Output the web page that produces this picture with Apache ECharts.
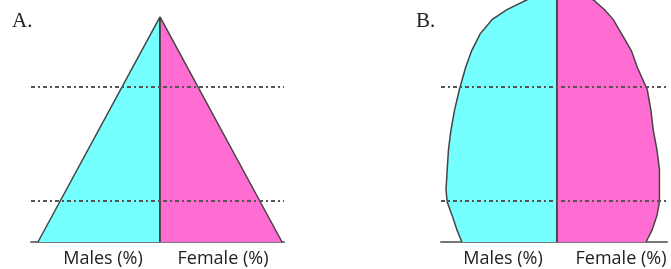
<!DOCTYPE html>
<html>
<head>
<meta charset="utf-8">
<script src="https://cdn.jsdelivr.net/npm/echarts@6/dist/echarts.min.js"></script>
<style>
  html, body { margin: 0; padding: 0; background: #fff; }
  #chart { width: 671px; height: 269px; }
</style>
</head>
<body>
<div id="chart"></div>
<script>
// A: expansive pyramid (age vs. % on each side)
const agesA = [0, 93];
const malesA = [10, 0];
const femalesA = [10, 0];

// B: stationary / bell shaped pyramid
const agesB = [0, 5, 11, 16.5, 21.5, 30, 38, 46, 54.5, 63, 72, 79, 86, 92, 96, 100, 103];
const malesB = [7.8, 8.2, 8.6, 9.0, 9.1, 9.0, 8.9, 8.7, 8.4, 8.0, 7.5, 7.0, 6.3, 5.3, 4.1, 2.5, 0.8];
const femalesB = [7.3, 7.8, 8.2, 8.4, 8.4, 8.4, 8.2, 7.9, 7.7, 7.4, 6.6, 6.1, 5.3, 4.6, 3.9, 3.0, 1.2];

// dashed age boundaries
const guideAges = [17, 64];

const sideLabels = ['Males (%)', 'Female (%)'];
const panelLabels = ['A.', 'B.'];

const CYAN = '#75ffff';
const PINK = '#ff6dd2';
const EDGE = '#444';

function sideRender(ages, widths, sign, color) {
  return function (params, api) {
    if (params.dataIndex !== 0) return;
    const edge = ages.map((a, i) => api.coord([sign * widths[i], a]));
    const top = api.coord([0, ages[ages.length - 1]]);
    const base = api.coord([0, 0]);
    return {
      type: 'group',
      children: [
        { type: 'polygon', shape: { points: [base].concat(edge, [top]) }, style: { fill: color } },
        { type: 'polyline', shape: { points: edge.concat([top]) }, style: { stroke: EDGE, lineWidth: 1.5, fill: null } },
        { type: 'line', shape: { x1: base[0], y1: base[1], x2: top[0], y2: top[1] }, style: { stroke: EDGE, lineWidth: 1.8 } }
      ]
    };
  };
}

function sideSeries(idx, ages, widths, sign, color) {
  return {
    type: 'custom',
    xAxisIndex: idx, yAxisIndex: idx,
    data: ages.map((a, i) => [sign * widths[i], a]),
    encode: { x: 0, y: 1 },
    renderItem: sideRender(ages, widths, sign, color),
    silent: true,
    z: 2
  };
}

function guideSeries(idx) {
  return {
    type: 'line', xAxisIndex: idx, yAxisIndex: idx, data: [], z: 5,
    markLine: {
      silent: true, symbol: 'none', animation: false,
      label: { show: false },
      lineStyle: { color: '#555', width: 1.8, type: [4, 3, 2, 3] },
      data: guideAges.map(a => ({ yAxis: a }))
    }
  };
}

const axisX = (gridIndex, min, max) => ({
  type: 'value', gridIndex, min, max,
  axisLine: { show: true, onZero: false, lineStyle: { color: '#777', width: 2 } },
  axisTick: { show: false }, axisLabel: { show: false }, splitLine: { show: false }
});
const axisY = (gridIndex) => ({
  type: 'value', gridIndex, min: 0, max: 100,
  axisLine: { show: false }, axisTick: { show: false }, axisLabel: { show: false }, splitLine: { show: false }
});

const sideText = (text, x, y) => ({
  type: 'text', x, y,
  style: { text, font: '18px "Open Sans"', fill: '#222', textAlign: 'center', textVerticalAlign: 'middle' }
});
const panelText = (text, x, y) => ({
  type: 'text', x, y,
  style: { text, font: '21px "Liberation Serif"', fill: '#222', textAlign: 'left', textVerticalAlign: 'middle' }
});

const chart = echarts.init(document.getElementById('chart'));
chart.setOption({
  animation: false,
  grid: [
    { left: 31, top: 0, width: 253, height: 242 },
    { left: 441, top: 0, width: 226, height: 242 }
  ],
  xAxis: [axisX(0, -10.57, 10.16), axisX(1, -9.51, 9.02)],
  yAxis: [axisY(0), axisY(1)],
  series: [
    sideSeries(0, agesA, malesA, -1, CYAN),
    sideSeries(0, agesA, femalesA, 1, PINK),
    sideSeries(1, agesB, malesB, -1, CYAN),
    sideSeries(1, agesB, femalesB, 1, PINK),
    guideSeries(0),
    guideSeries(1)
  ],
  graphic: [
    panelText(panelLabels[0], 12, 21),
    panelText(panelLabels[1], 416, 21),
    sideText(sideLabels[0], 103, 259),
    sideText(sideLabels[1], 223, 259),
    sideText(sideLabels[0], 503, 259),
    sideText(sideLabels[1], 621, 259)
  ]
});
</script>
</body>
</html>
